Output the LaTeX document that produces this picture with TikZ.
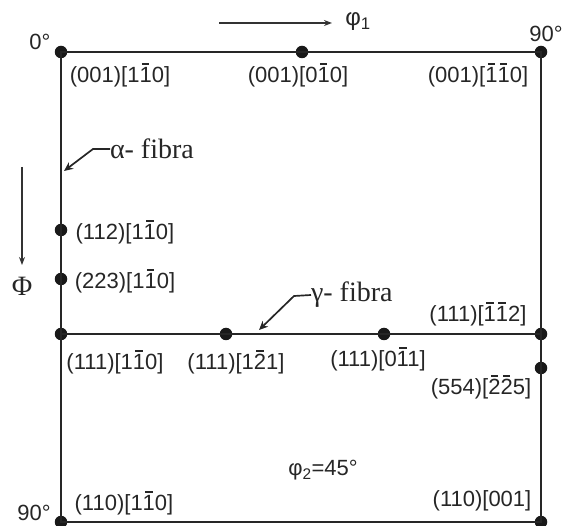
\documentclass[tikz,border=0pt]{standalone}
\usepackage{fontspec}
\setmainfont{Liberation Sans}
\newfontfamily\serifface{Liberation Serif}
\usetikzlibrary{arrows.meta}
% barred Miller index digit: a short bar over each digit, so neighbours stay apart
\newcommand\nb[1]{\leavevmode\rlap{\kern0.11em\rule[0.80em]{0.34em}{0.07em}}#1}
\begin{document}
\begin{tikzpicture}[x=1pt,y=-1pt,
  every node/.style={inner sep=0pt,outer sep=0pt},
  pt/.style={circle,fill=black!90,minimum size=12.5pt},
  lbl/.style={font=\fontsize{22}{24}\selectfont,text=black!85},
  fib/.style={font=\serifface\fontsize{28}{30}\selectfont,text=black!85},
  frame/.style={line width=2.8pt,draw=black!85},
  pointer/.style={line width=1.7pt,draw=black!85,-{Stealth[length=9pt,width=8pt]}},
  axis/.style={line width=1.4pt,draw=black!80,-{Stealth[length=8pt,width=6pt]}}]
\useasboundingbox (0,0) rectangle (565,526);

% corner and interior points
\node[pt] (tl) at (61,52) {};
\node[pt] (tm) at (302,52) {};
\node[pt] (tr) at (541,52) {};
\node[pt] (a1) at (61,230) {};
\node[pt] (a2) at (61,279) {};
\node[pt] (ml) at (61,334) {};
\node[pt] (g1) at (226,334) {};
\node[pt] (g2) at (384,334) {};
\node[pt] (mr) at (541,334) {};
\node[pt] (r1) at (541,368) {};
\node[pt] (bl) at (61,522) {};
\node[pt] (br) at (541,522) {};

% section frame and the gamma line
\draw[frame] (tl.center) -- (tr.center) -- (br.center) -- (bl.center) -- cycle;
\draw[frame] (ml.center) -- (mr.center);

% angle marks
\node[lbl] (z0) at (40,42) {0°};
\node[lbl] (z90) at (546,34) {90°};
\node[lbl] (b90) at (34,513) {90°};

% axis arrows
\node[lbl,font=\fontsize{24}{26}\selectfont] (phi1) at (358,22) {φ\textsubscript{1}};
\coordinate (phi1s) at (219,23);
\coordinate (phi1e) at (332,23);
\draw[axis] (phi1s) -- (phi1e);
\node[fib] (Phi) at (22,286) {Φ};
\coordinate (Phis) at (22,167);
\coordinate (Phie) at (22,265);
\draw[axis] (Phis) -- (Phie);

% orientation labels
\node[lbl] (l1) at (120,75) {(001)[1\nb{1}0]};
\node[lbl] (l2) at (298,75) {(001)[0\nb{1}0]};
\node[lbl] (l3) at (478,75) {(001)[\nb{1}\nb{1}0]};
\node[lbl] (l4) at (125,232) {(112)[1\nb{1}0]};
\node[lbl] (l5) at (125,281) {(223)[1\nb{1}0]};
\node[lbl] (l6) at (478,314) {(111)[\nb{1}\nb{1}2]};
\node[lbl] (l7) at (115,362) {(111)[1\nb{1}0]};
\node[lbl] (l8) at (236,362) {(111)[1\nb{2}1]};
\node[lbl] (l9) at (378,359) {(111)[0\nb{1}1]};
\node[lbl] (l10) at (481,387) {(554)[\nb{2}\nb{2}5]};
\node[lbl] (l11) at (124,503) {(110)[1\nb{1}0]};
\node[lbl] (l12) at (482,501) {(110)[001]};
\node[lbl] (l13) at (323,470) {φ\textsubscript{2}=45°};

% fibre labels with pointers
\node[fib,anchor=west] (afib) at (110,149) {α- fibra};
\coordinate (abend) at (93,149);
\coordinate (atip) at (64,171);
\draw[pointer] (afib.west) -- (abend) -- (atip);
\node[fib,anchor=west] (gfib) at (311,295) {γ- fibra};
\coordinate (gbend) at (294,296);
\coordinate (gtip) at (259,330);
\draw[pointer] (gfib.west) -- (gbend) -- (gtip);
\end{tikzpicture}
\end{document}
